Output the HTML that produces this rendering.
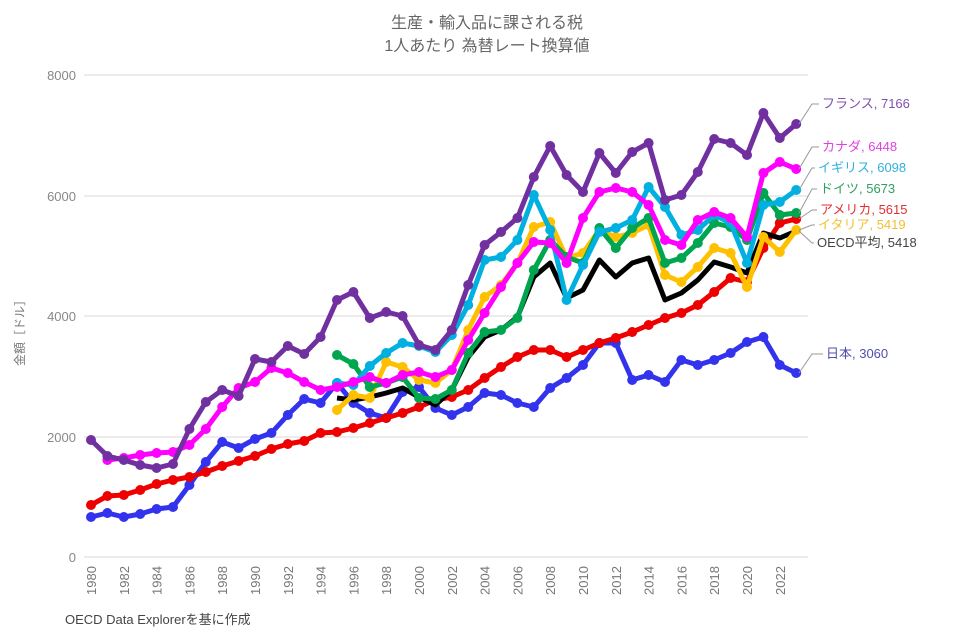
<!DOCTYPE html>
<html><head><meta charset="utf-8"><style>
html,body{margin:0;padding:0;background:#fff;}
svg{display:block;font-family:"Liberation Sans","Noto Sans CJK JP",sans-serif;}
</style></head><body>
<svg id="s" width="975" height="637" viewBox="0 0 975 637" xmlns="http://www.w3.org/2000/svg">
<rect width="975" height="637" fill="#fff"/>
<text x="487" y="28" font-size="16" fill="#666" text-anchor="middle">生産・輸入品に課される税</text>
<text x="487" y="51" font-size="16" fill="#666" text-anchor="middle">1人あたり 為替レート換算値</text>
<g stroke="#d8d8d8" stroke-width="1">
<line x1="84" y1="75" x2="808" y2="75"/><line x1="84" y1="196" x2="808" y2="196"/>
<line x1="84" y1="316" x2="808" y2="316"/><line x1="84" y1="437" x2="808" y2="437"/>
<line x1="84" y1="557" x2="808" y2="557"/></g>
<g font-size="13" fill="#888" text-anchor="end">
<text x="76" y="80">8000</text><text x="76" y="201">6000</text><text x="76" y="321">4000</text>
<text x="76" y="442">2000</text><text x="76" y="562">0</text></g>
<text transform="translate(24,330) rotate(-90)" font-size="12" fill="#777" text-anchor="middle">金額［ドル］</text>
<g id="xt" font-size="13" fill="#777"></g>
<g id="ser"></g>
<g id="lab" font-size="13"></g>
<text x="65" y="624" font-size="13" fill="#444">OECD Data Explorerを基に作成</text>
</svg>
<script>
const NS="http://www.w3.org/2000/svg";
const X=y=>91+16.4*(y-1980);
const xt=document.getElementById('xt');
for(let y=1980;y<=2022;y+=2){const t=document.createElementNS(NS,'text');t.setAttribute('transform',`translate(${X(y)+5},595) rotate(-90)`);t.textContent=y;xt.appendChild(t);}
const S=[
{c:'#7030a0',s:1980,m:1,d:[440,456,460,465,468,464,429,402,390,396,359,362,346,354,337,300,292,318,312,316,345,350,330,285,245,232,218,177,146,175,192,153,173,152,143,200,195,172,139,143,155,113,138,124]},
{c:'#ff00ff',s:1981,m:1,d:[460,458,455,453,452,445,429,407,388,382,368,373,382,390,387,382,377,383,375,372,377,370,340,313,287,263,242,243,263,218,192,188,192,205,240,245,220,212,218,237,173,162,169]},
{c:'#00b0e0',s:1995,m:1,d:[383,385,366,353,343,346,352,335,305,260,257,240,195,230,300,265,232,228,220,187,207,235,230,215,223,263,205,202,190]},
{c:'#00a550',s:1995,m:1,d:[355,364,387,383,377,398,399,390,353,332,330,318,270,240,257,263,228,248,228,218,263,258,243,223,227,240,193,215,213]},
{c:'#ffc000',s:1995,m:1,d:[410,395,398,362,367,380,383,370,330,297,285,263,227,222,258,253,230,237,233,225,275,282,267,248,253,287,237,252,230]},
{c:'#000',s:1995,m:0,d:[398,400,397,393,388,397,405,390,357,337,330,317,277,263,298,290,260,277,263,258,300,293,280,262,267,273,233,238,231]},
{c:'#ee0000',s:1980,m:1,d:[505,496,495,490,484,480,477,472,466,461,456,449,444,441,433,432,428,423,418,413,407,400,397,390,378,367,357,350,350,357,350,343,338,332,325,318,313,305,292,278,282,248,223,219]},
{c:'#3333ee',s:1980,m:1,d:[517,513,517,514,509,507,485,462,442,448,439,433,415,399,403,383,403,413,418,392,387,408,415,407,393,395,403,407,388,378,365,343,343,380,375,382,360,365,360,353,342,337,365,373]}
];
const ser=document.getElementById('ser');
S.slice().reverse().forEach(o=>{
 const pts=o.d.map((v,i)=>[X(o.s+i),v]);
 const p=document.createElementNS(NS,'polyline');
 p.setAttribute('points',pts.map(a=>a.join(',')).join(' '));
 p.setAttribute('fill','none');p.setAttribute('stroke',o.c);p.setAttribute('stroke-width','5');p.setAttribute('stroke-linejoin','round');
 ser.appendChild(p);
 if(o.m)pts.forEach(a=>{const c=document.createElementNS(NS,'circle');c.setAttribute('cx',a[0]);c.setAttribute('cy',a[1]);c.setAttribute('r','5');c.setAttribute('fill',o.c);ser.appendChild(c);});
});
const L=[
['フランス, 7166','#8050b0',124,108,822],
['カナダ, 6448','#e040e0',169,151,822],
['イギリス, 6098','#30b0e0',190,172,818],
['ドイツ, 5673','#30a060',213,193,820],
['アメリカ, 5615','#e03030',219,214,820],
['イタリア, 5419','#f0c030',230,229,818],
['OECD平均, 5418','#444',231,247,817],
['日本, 3060','#5050b0',373,358,826]
];
const lab=document.getElementById('lab');
L.forEach(l=>{
 const pl=document.createElementNS(NS,'polyline');
 pl.setAttribute('points',`799,${l[2]} 812,${l[3]-4} ${l[4]-3},${l[3]-4}`);
 pl.setAttribute('fill','none');pl.setAttribute('stroke','#999');pl.setAttribute('stroke-width','1');
 lab.appendChild(pl);
 const t=document.createElementNS(NS,'text');t.setAttribute('x',l[4]);t.setAttribute('y',l[3]);t.setAttribute('fill',l[1]);t.textContent=l[0];lab.appendChild(t);
});
</script>
</body></html>
